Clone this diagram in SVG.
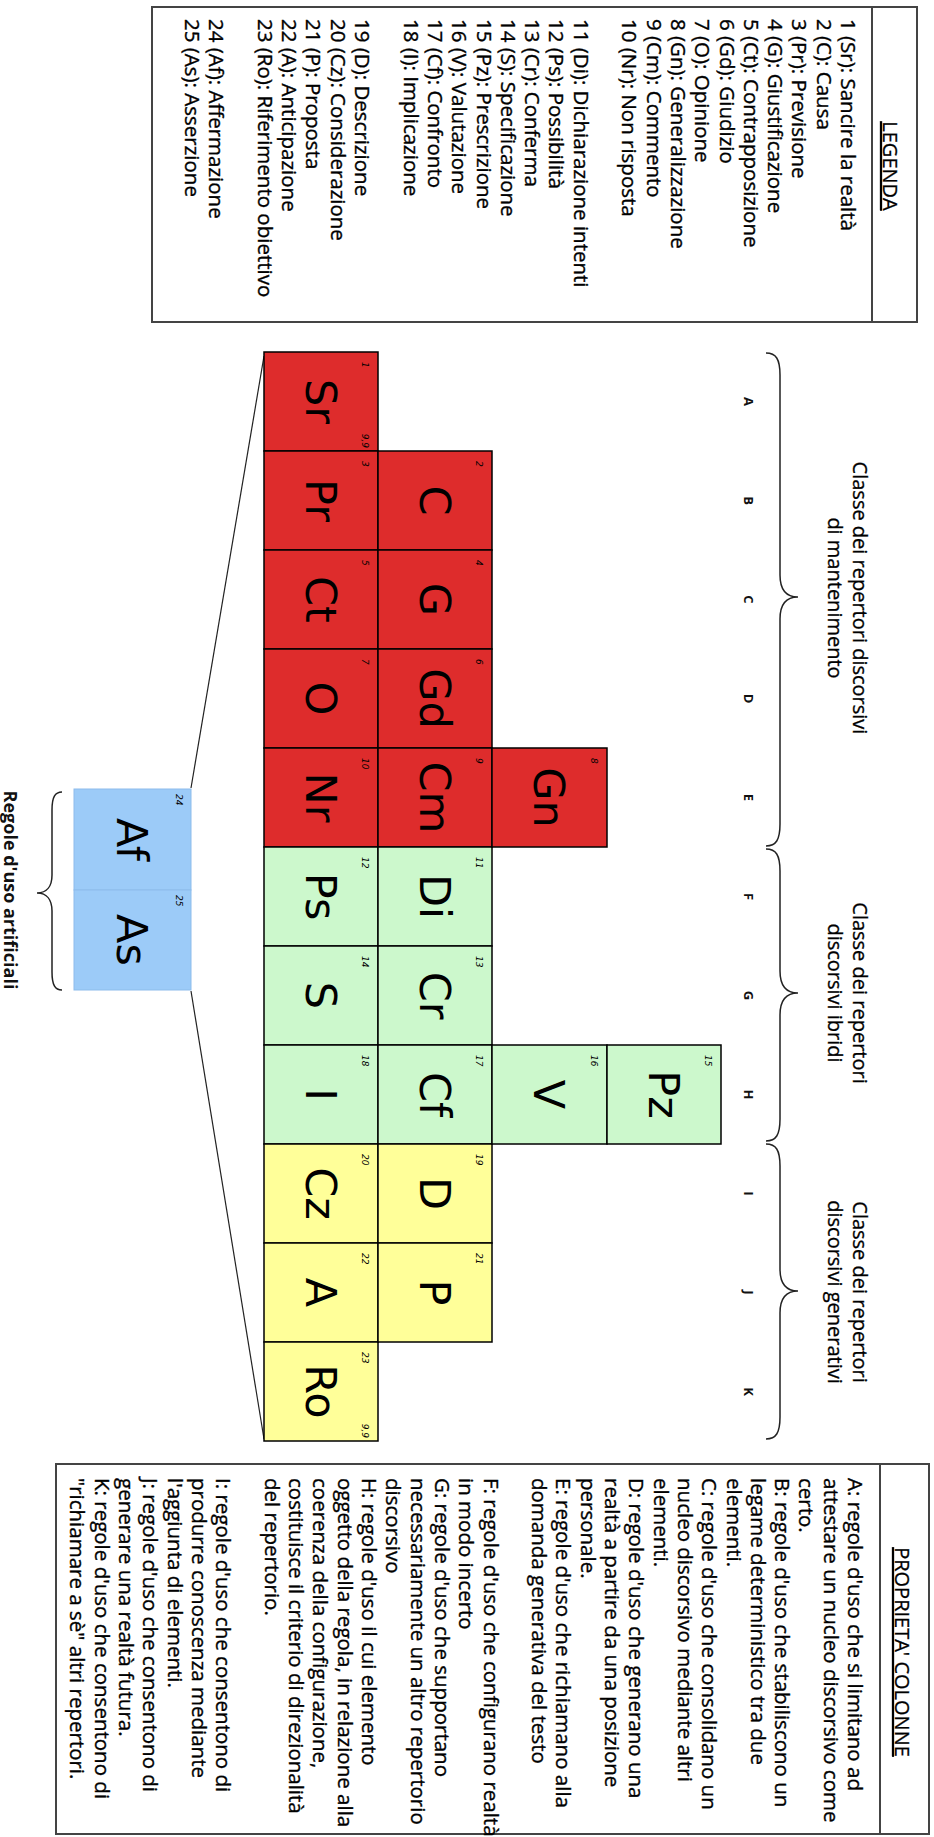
<svg xmlns="http://www.w3.org/2000/svg" width="934" height="1837" viewBox="0 0 934 1837">
<style>
.t{font-family:"Open Sans","DejaVu Sans",sans-serif;font-size:20.5px;fill:#000;stroke:#000;stroke-width:0.35}
.title{font-family:"Open Sans","DejaVu Sans",sans-serif;font-size:20px;fill:#000;stroke:#000;stroke-width:0.3;text-anchor:middle;text-decoration:underline}
.head{font-family:"Open Sans","DejaVu Sans",sans-serif;font-size:20px;fill:#000;stroke:#000;stroke-width:0.3;text-anchor:middle}
.col{font-family:"Open Sans","DejaVu Sans",sans-serif;font-size:13px;font-weight:bold;fill:#111;text-anchor:middle}
.art{font-family:"Open Sans","DejaVu Sans",sans-serif;font-size:18px;font-weight:bold;fill:#111;text-anchor:middle}
.sym{font-family:"DejaVu Sans",sans-serif;font-size:43px;fill:#000;text-anchor:middle}
.num{font-family:"DejaVu Sans",sans-serif;font-size:9px;font-style:italic;fill:#000}
.end{text-anchor:end}
.box{fill:#fff;stroke:#444;stroke-width:2}
.sep{stroke:#444;stroke-width:2}
.red rect{fill:#DE2C2C;stroke:#000;stroke-width:1.5}
.green rect{fill:#CCF8CC;stroke:#000;stroke-width:1.5}
.yellow rect{fill:#FFFF99;stroke:#000;stroke-width:1.5}
.blue rect{fill:#9CCBF8;stroke:#8DBCEB;stroke-width:1}
.brace{fill:none;stroke:#222;stroke-width:1.5}
.link{fill:none;stroke:#222;stroke-width:1.2}
</style>
<g transform="translate(934 0) rotate(90)">
<g id="legenda">
<rect class="box" x="7" y="17" width="315" height="765"/>
<line class="sep" x1="7" y1="62" x2="322" y2="62"/>
<text class="title" x="166" y="51">LEGENDA</text>
<text class="t">
<tspan x="19" y="93">1 (Sr): Sancire la realtà</tspan>
<tspan x="19" y="117.3">2 (C): Causa</tspan>
<tspan x="19" y="141.6">3 (Pr): Previsione</tspan>
<tspan x="19" y="165.9">4 (G): Giustificazione</tspan>
<tspan x="19" y="190.2">5 (Ct): Contrapposizione</tspan>
<tspan x="19" y="214.5">6 (Gd): Giudizio</tspan>
<tspan x="19" y="238.8">7 (O): Opinione</tspan>
<tspan x="19" y="263.1">8 (Gn): Generalizzazione</tspan>
<tspan x="19" y="287.4">9 (Cm): Commento</tspan>
<tspan x="19" y="311.7">10 (Nr): Non risposta</tspan>
<tspan x="19" y="360.3">11 (Di): Dichiarazione intenti</tspan>
<tspan x="19" y="384.6">12 (Ps): Possibilità</tspan>
<tspan x="19" y="408.9">13 (Cr): Conferma</tspan>
<tspan x="19" y="433.2">14 (S): Specificazione</tspan>
<tspan x="19" y="457.5">15 (Pz): Prescrizione</tspan>
<tspan x="19" y="481.8">16 (V): Valutazione</tspan>
<tspan x="19" y="506.1">17 (Cf): Confronto</tspan>
<tspan x="19" y="530.4">18 (I): Implicazione</tspan>
<tspan x="19" y="579">19 (D): Descrizione</tspan>
<tspan x="19" y="603.3">20 (Cz): Considerazione</tspan>
<tspan x="19" y="627.6">21 (P): Proposta</tspan>
<tspan x="19" y="651.9">22 (A): Anticipazione</tspan>
<tspan x="19" y="676.2">23 (Ro): Riferimento obiettivo</tspan>
<tspan x="19" y="724.8">24 (Af): Affermazione</tspan>
<tspan x="19" y="749.1">25 (As): Asserzione</tspan>
</text>
</g>
<g id="proprieta-colonne">
<rect class="box" x="1464" y="5" width="370" height="873"/>
<line class="sep" x1="1464" y1="54" x2="1834" y2="54"/>
<text class="title" x="1652" y="39">PROPRIETA' COLONNE</text>
<text class="t">
<tspan x="1478" y="86">A: regole d'uso che si limitano ad</tspan>
<tspan x="1478" y="110.3">attestare un nucleo discorsivo come</tspan>
<tspan x="1478" y="134.6">certo.</tspan>
<tspan x="1478" y="158.9">B: regole d'uso che stabiliscono un</tspan>
<tspan x="1478" y="183.2">legame deterministico tra due</tspan>
<tspan x="1478" y="207.5">elementi.</tspan>
<tspan x="1478" y="231.8">C: regole d'uso che consolidano un</tspan>
<tspan x="1478" y="256.1">nucleo discorsivo mediante altri</tspan>
<tspan x="1478" y="280.4">elementi.</tspan>
<tspan x="1478" y="304.7">D: regole d'uso che generano una</tspan>
<tspan x="1478" y="329">realtà a partire da una posizione</tspan>
<tspan x="1478" y="353.3">personale.</tspan>
<tspan x="1478" y="377.6">E: regole d'uso che richiamano alla</tspan>
<tspan x="1478" y="401.9">domanda generativa del testo</tspan>
<tspan x="1478" y="450.5">F: regole d'uso che configurano realtà</tspan>
<tspan x="1478" y="474.8">in modo incerto</tspan>
<tspan x="1478" y="499.1">G: regole d'uso che supportano</tspan>
<tspan x="1478" y="523.4">necessariamente un altro repertorio</tspan>
<tspan x="1478" y="547.7">discorsivo</tspan>
<tspan x="1478" y="572">H: regole d'uso il cui elemento</tspan>
<tspan x="1478" y="596.3">oggetto della regola, in relazione alla</tspan>
<tspan x="1478" y="620.6">coerenza della configurazione,</tspan>
<tspan x="1478" y="644.9">costituisce il criterio di direzionalità</tspan>
<tspan x="1478" y="669.2">del repertorio.</tspan>
<tspan x="1478" y="717.8">I: regole d'uso che consentono di</tspan>
<tspan x="1478" y="742.1">produrre conoscenza mediante</tspan>
<tspan x="1478" y="766.4">l'aggiunta di elementi.</tspan>
<tspan x="1478" y="790.7">J: regole d'uso che consentono di</tspan>
<tspan x="1478" y="815">generare una realtà futura.</tspan>
<tspan x="1478" y="839.3">K: regole d'uso che consentono di</tspan>
<tspan x="1478" y="863.6">"richiamare a sè" altri repertori.</tspan>
</text>
</g>
<g id="headings">
<text class="head" x="598" y="81">Classe dei repertori discorsivi</text>
<text class="head" x="598" y="106">di mantenimento</text>
<text class="head" x="993" y="81">Classe dei repertori</text>
<text class="head" x="993" y="106">discorsivi ibridi</text>
<text class="head" x="1292" y="81">Classe dei repertori</text>
<text class="head" x="1292" y="106">discorsivi generativi</text>
<text class="art" x="890" y="930">Regole d'uso artificiali</text>
</g>
<g id="column-letters">
<text class="col" x="401.5" y="190">A</text>
<text class="col" x="500.5" y="190">B</text>
<text class="col" x="599.5" y="190">C</text>
<text class="col" x="698.5" y="190">D</text>
<text class="col" x="797.5" y="190">E</text>
<text class="col" x="896.5" y="190">F</text>
<text class="col" x="995.5" y="190">G</text>
<text class="col" x="1094.5" y="190">H</text>
<text class="col" x="1193.5" y="190">I</text>
<text class="col" x="1292.5" y="190">J</text>
<text class="col" x="1391.5" y="190">K</text>
</g>
<g id="connectors">
<path class="brace" d="M353,168 C353,158 359,154 375,154 L575,154 C589,154 597,148 597,136 C597,148 605,154 619,154 L824,154 C840,154 846,158 846,168"/>
<path class="brace" d="M849,168 C849,158 855,154 871,154 L971,154 C985,154 993,148 993,136 C993,148 1001,154 1015,154 L1119,154 C1135,154 1141,158 1141,168"/>
<path class="brace" d="M1144,168 C1144,158 1150,154 1166,154 L1269,154 C1283,154 1291,148 1291,136 C1291,148 1299,154 1313,154 L1417,154 C1433,154 1439,158 1439,168"/>
<path class="brace" d="M792,872 C792,879 797,882 810,882 L875,882 C886,882 893,887 893,897 C893,887 900,882 911,882 L972,882 C985,882 990,879 990,872"/>
<line class="link" x1="356" y1="670" x2="788" y2="743"/>
<line class="link" x1="991" y1="743" x2="1439" y2="670"/>
</g>
<g id="cell-sr" class="red"><rect x="352" y="556" width="99" height="114"/><text class="sym" x="401.5" y="628">Sr</text><text class="num" x="362" y="572">1</text><text class="num end" x="448" y="572">9,9</text></g>
<g id="cell-pr" class="red"><rect x="451" y="556" width="99" height="114"/><text class="sym" x="500.5" y="628">Pr</text><text class="num" x="461" y="572">3</text></g>
<g id="cell-ct" class="red"><rect x="550" y="556" width="99" height="114"/><text class="sym" x="599.5" y="628">Ct</text><text class="num" x="560" y="572">5</text></g>
<g id="cell-o" class="red"><rect x="649" y="556" width="99" height="114"/><text class="sym" x="698.5" y="628">O</text><text class="num" x="659" y="572">7</text></g>
<g id="cell-nr" class="red"><rect x="748" y="556" width="99" height="114"/><text class="sym" x="797.5" y="628">Nr</text><text class="num" x="758" y="572">10</text></g>
<g id="cell-ps" class="green"><rect x="847" y="556" width="99" height="114"/><text class="sym" x="896.5" y="628">Ps</text><text class="num" x="857" y="572">12</text></g>
<g id="cell-s" class="green"><rect x="946" y="556" width="99" height="114"/><text class="sym" x="995.5" y="628">S</text><text class="num" x="956" y="572">14</text></g>
<g id="cell-i" class="green"><rect x="1045" y="556" width="99" height="114"/><text class="sym" x="1094.5" y="628">I</text><text class="num" x="1055" y="572">18</text></g>
<g id="cell-cz" class="yellow"><rect x="1144" y="556" width="99" height="114"/><text class="sym" x="1193.5" y="628">Cz</text><text class="num" x="1154" y="572">20</text></g>
<g id="cell-a" class="yellow"><rect x="1243" y="556" width="99" height="114"/><text class="sym" x="1292.5" y="628">A</text><text class="num" x="1253" y="572">22</text></g>
<g id="cell-ro" class="yellow"><rect x="1342" y="556" width="99" height="114"/><text class="sym" x="1391.5" y="628">Ro</text><text class="num" x="1352" y="572">23</text><text class="num end" x="1438" y="572">9,9</text></g>
<g id="cell-c" class="red"><rect x="451" y="442" width="99" height="114"/><text class="sym" x="500.5" y="514">C</text><text class="num" x="461" y="458">2</text></g>
<g id="cell-g" class="red"><rect x="550" y="442" width="99" height="114"/><text class="sym" x="599.5" y="514">G</text><text class="num" x="560" y="458">4</text></g>
<g id="cell-gd" class="red"><rect x="649" y="442" width="99" height="114"/><text class="sym" x="698.5" y="514">Gd</text><text class="num" x="659" y="458">6</text></g>
<g id="cell-cm" class="red"><rect x="748" y="442" width="99" height="114"/><text class="sym" x="797.5" y="514">Cm</text><text class="num" x="758" y="458">9</text></g>
<g id="cell-di" class="green"><rect x="847" y="442" width="99" height="114"/><text class="sym" x="896.5" y="514">Di</text><text class="num" x="857" y="458">11</text></g>
<g id="cell-cr" class="green"><rect x="946" y="442" width="99" height="114"/><text class="sym" x="995.5" y="514">Cr</text><text class="num" x="956" y="458">13</text></g>
<g id="cell-cf" class="green"><rect x="1045" y="442" width="99" height="114"/><text class="sym" x="1094.5" y="514">Cf</text><text class="num" x="1055" y="458">17</text></g>
<g id="cell-d" class="yellow"><rect x="1144" y="442" width="99" height="114"/><text class="sym" x="1193.5" y="514">D</text><text class="num" x="1154" y="458">19</text></g>
<g id="cell-p" class="yellow"><rect x="1243" y="442" width="99" height="114"/><text class="sym" x="1292.5" y="514">P</text><text class="num" x="1253" y="458">21</text></g>
<g id="cell-gn" class="red"><rect x="748" y="327" width="99" height="115"/><text class="sym" x="797.5" y="400">Gn</text><text class="num" x="758" y="343">8</text></g>
<g id="cell-v" class="green"><rect x="1045" y="327" width="99" height="115"/><text class="sym" x="1094.5" y="400">V</text><text class="num" x="1055" y="343">16</text></g>
<g id="cell-pz" class="green"><rect x="1045" y="213" width="99" height="114"/><text class="sym" x="1094.5" y="285">Pz</text><text class="num" x="1055" y="229">15</text></g>
<g id="cell-af" class="blue"><rect x="789" y="743" width="101" height="117"/><text class="sym" x="839.5" y="817">Af</text><text class="num" x="794" y="758">24</text></g>
<g id="cell-as" class="blue"><rect x="890" y="743" width="100" height="117"/><text class="sym" x="940" y="817">As</text><text class="num" x="895" y="758">25</text></g>
</g>
</svg>
